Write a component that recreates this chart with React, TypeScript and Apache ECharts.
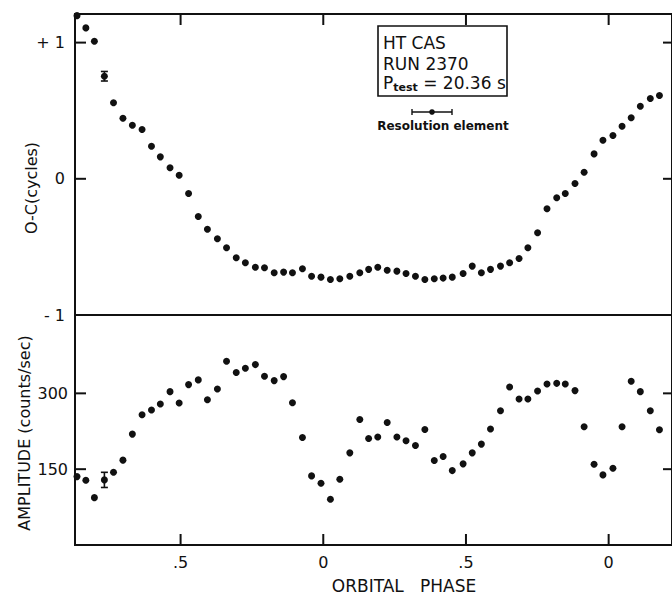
import React, { useEffect, useRef } from "react";
import * as echarts from "echarts";

// Orbital phase of each bin (continuous, wraps through 0 twice)
const phase = [
  -0.863, -0.832, -0.802, -0.767, -0.735, -0.702, -0.669, -0.635, -0.602, -0.571,
  -0.537, -0.505, -0.472, -0.438, -0.406, -0.371, -0.339, -0.305, -0.273, -0.238,
  -0.206, -0.172, -0.139, -0.108, -0.073, -0.041, -0.008, 0.025, 0.058, 0.093,
  0.128, 0.159, 0.191, 0.224, 0.258, 0.29, 0.323, 0.356, 0.389, 0.42,
  0.452, 0.49, 0.522, 0.554, 0.586, 0.621, 0.653, 0.686, 0.717, 0.751,
  0.784, 0.818, 0.848, 0.882, 0.914, 0.949, 0.98, 1.015, 1.047, 1.079,
  1.111, 1.146, 1.178,
];

// O-C (cycles)
const ocCycles = [
  1.198, 1.108, 1.01, 0.753, 0.558, 0.445, 0.393, 0.362, 0.239, 0.161,
  0.081, 0.026, -0.108, -0.277, -0.37, -0.44, -0.506, -0.58, -0.616, -0.649,
  -0.653, -0.69, -0.685, -0.69, -0.66, -0.715, -0.722, -0.739, -0.734, -0.715,
  -0.69, -0.665, -0.649, -0.671, -0.678, -0.695, -0.715, -0.739, -0.734, -0.729,
  -0.722, -0.695, -0.641, -0.69, -0.665, -0.641, -0.616, -0.585, -0.506, -0.396,
  -0.22, -0.139, -0.108, -0.034, 0.048, 0.183, 0.283, 0.318, 0.386, 0.448,
  0.533, 0.589, 0.611,
];

// Amplitude (counts/sec)
const amplitude = [
  135.3, 128.2, 93.7, 128.8, 144.0, 167.9, 219.4, 257.7, 267.1, 279.0,
  303.4, 281.0, 317.3, 326.6, 287.5, 308.7, 363.5, 341.1, 349.6, 356.9,
  333.7, 325.2, 333.1, 281.5, 212.7, 136.7, 122.2, 90.5, 130.2, 182.3,
  248.4, 210.7, 213.5, 242.5, 213.5, 206.2, 196.8, 228.6, 167.1, 175.0,
  147.2, 160.5, 182.3, 199.6, 229.4, 265.7, 312.7, 288.9, 288.9, 304.8,
  318.6, 319.8, 318.6, 305.4, 233.9, 159.9, 138.7, 152.0, 233.9, 323.8,
  303.4, 265.7, 228.0,
];

// Representative error bars: [phase, value, half-error]
const ocErrorBars = [[-0.767, 0.753, 0.035]];
const ampErrorBars = [[-0.767, 128.8, 15]];

// Tick positions and labels
const phaseTicks = [-0.5, 0, 0.5, 1.0];
const ocTicks = [-1, 0, 1];
const ocTickLabels: Record<string, string> = { "1": "+ 1", "0": "0", "-1": "- 1" };
const ampTicks = [150, 300];

const INK = "#111";
const FONT = "DejaVu Sans";

const X_MIN = -0.87;
const X_MAX = 1.222;
const OC_MIN = -1;
const OC_MAX = 1.21;
const AMP_MIN = 0;
const AMP_MAX = 455;

function errorRenderer(params: any, api: any) {
  const x = api.value(0);
  const y = api.value(1);
  const e = api.value(2);
  const top = api.coord([x, y + e]);
  const bot = api.coord([x, y - e]);
  const cw = 3.5;
  const st = { stroke: INK, lineWidth: 1.6 };
  return {
    type: "group",
    children: [
      { type: "line", shape: { x1: top[0], y1: top[1], x2: bot[0], y2: bot[1] }, style: st },
      { type: "line", shape: { x1: top[0] - cw, y1: top[1], x2: top[0] + cw, y2: top[1] }, style: st },
      { type: "line", shape: { x1: bot[0] - cw, y1: bot[1], x2: bot[0] + cw, y2: bot[1] }, style: st },
    ],
  };
}

export default function App() {
  const ref = useRef<HTMLDivElement>(null);

  useEffect(() => {
    if (!ref.current) return;
    const chart = echarts.init(ref.current, null, { renderer: "svg" });

    const noLine = { show: false, onZero: false };

    const baseGraphics: any[] = [
      {
        type: "text", x: 31, y: 188, rotation: Math.PI / 2,
        style: { text: "O-C(cycles)", fontSize: 16, fontFamily: FONT, fill: INK, align: "center", verticalAlign: "middle" },
      },
      {
        type: "text", x: 24, y: 433, rotation: Math.PI / 2,
        style: { text: "AMPLITUDE (counts/sec)", fontSize: 16, fontFamily: FONT, fill: INK, align: "center", verticalAlign: "middle" },
      },
      {
        type: "text", x: 404, y: 586,
        style: { text: "ORBITAL   PHASE", fontSize: 17, fontFamily: FONT, fill: INK, align: "center", verticalAlign: "middle" },
      },
      {
        type: "rect", shape: { x: 378, y: 26, width: 129, height: 70 },
        style: { fill: "none", stroke: INK, lineWidth: 1.6 },
      },
      {
        type: "text", x: 383, y: 43,
        style: { text: "HT CAS", fontSize: 17, fontFamily: FONT, fill: INK, align: "left", verticalAlign: "middle" },
      },
      {
        type: "text", x: 383, y: 64,
        style: { text: "RUN 2370", fontSize: 17, fontFamily: FONT, fill: INK, align: "left", verticalAlign: "middle" },
      },
      {
        type: "text", x: 383, y: 83,
        style: {
          text: "P{sub|test} = 20.36 s", fontSize: 17, fontFamily: FONT, fill: INK, align: "left", verticalAlign: "middle",
          rich: { sub: { fontSize: 11, fontWeight: "bold", fontFamily: FONT, fill: INK, padding: [8, 0, 0, 0] } },
        },
      },
      { type: "line", shape: { x1: 412, y1: 112, x2: 452, y2: 112 }, style: { stroke: INK, lineWidth: 1.4 } },
      { type: "line", shape: { x1: 412, y1: 109, x2: 412, y2: 115 }, style: { stroke: INK, lineWidth: 1.4 } },
      { type: "line", shape: { x1: 452, y1: 109, x2: 452, y2: 115 }, style: { stroke: INK, lineWidth: 1.4 } },
      { type: "circle", shape: { cx: 432, cy: 112, r: 2.8 }, style: { fill: INK } },
      {
        type: "text", x: 443, y: 126,
        style: { text: "Resolution element", fontSize: 12, fontWeight: "bold", fontFamily: FONT, fill: INK, align: "center", verticalAlign: "middle" },
      },
    ];

    const option: any = {
      animation: false,
      backgroundColor: "#fff",
      textStyle: { fontFamily: FONT, color: INK },
      grid: [
        { left: 75, top: 14, width: 601, height: 301, show: true, borderColor: INK, borderWidth: 2, backgroundColor: "transparent" },
        { left: 75, top: 315, width: 601, height: 230, show: true, borderColor: INK, borderWidth: 2, backgroundColor: "transparent" },
      ],
      xAxis: [
        {
          gridIndex: 0, type: "value", min: X_MIN, max: X_MAX, position: "top",
          axisLine: noLine, axisTick: { show: false }, axisLabel: { show: false }, splitLine: { show: false },
        },
        {
          gridIndex: 1, type: "value", min: X_MIN, max: X_MAX, position: "bottom",
          axisLine: noLine, axisTick: { show: false },
          axisLabel: {
            show: true, margin: 9, fontSize: 16, fontFamily: FONT, color: INK,
            customValues: phaseTicks,
            formatter: (v: number) => {
              const f = ((v % 1) + 1) % 1;
              return Math.abs(f - 0.5) < 1e-6 ? ".5" : "0";
            },
          },
          splitLine: { show: false },
        },
      ],
      yAxis: [
        {
          gridIndex: 0, type: "value", min: OC_MIN, max: OC_MAX, interval: 1, position: "left",
          axisLine: noLine, axisTick: { show: false },
          axisLabel: {
            margin: 10, fontSize: 16, fontFamily: FONT, color: INK,
            formatter: (v: number) => ocTickLabels[String(Math.round(v * 1000) / 1000)] ?? "",
          },
          splitLine: { show: false },
        },
        {
          gridIndex: 1, type: "value", min: AMP_MIN, max: AMP_MAX, interval: 150, position: "left",
          axisLine: noLine, axisTick: { show: false },
          axisLabel: {
            margin: 7, fontSize: 16, fontFamily: FONT, color: INK,
            formatter: (v: number) => (ampTicks.indexOf(v) >= 0 ? String(v) : ""),
          },
          splitLine: { show: false },
        },
      ],
      series: [
        {
          type: "scatter", xAxisIndex: 0, yAxisIndex: 0, symbolSize: 7, clip: true,
          itemStyle: { color: INK, opacity: 1 },
          data: phase.map((p, i) => [p, ocCycles[i]]),
        },
        {
          type: "scatter", xAxisIndex: 1, yAxisIndex: 1, symbolSize: 7, clip: true,
          itemStyle: { color: INK, opacity: 1 },
          data: phase.map((p, i) => [p, amplitude[i]]),
        },
        {
          type: "custom", xAxisIndex: 0, yAxisIndex: 0, renderItem: errorRenderer,
          encode: { x: 0, y: [1] }, data: ocErrorBars, z: 3,
        },
        {
          type: "custom", xAxisIndex: 1, yAxisIndex: 1, renderItem: errorRenderer,
          encode: { x: 0, y: [1] }, data: ampErrorBars, z: 3,
        },
      ],
      graphic: baseGraphics,
    };

    chart.setOption(option);

    // Axis ticks placed through the axes' own scales, drawn as small filled bars
    const bar = (x: number, y: number, w: number, h: number) => ({
      type: "rect", shape: { x, y, width: w, height: h }, style: { fill: INK }, z: 100,
    });
    const ticks: any[] = [];
    const g0 = { xAxisIndex: 0, yAxisIndex: 0 };
    const g1 = { xAxisIndex: 1, yAxisIndex: 1 };
    phaseTicks.forEach((v) => {
      const a = chart.convertToPixel(g0 as any, [v, OC_MAX]) as number[];
      ticks.push(bar(a[0] - 1, a[1], 2, 11));
      const b = chart.convertToPixel(g1 as any, [v, AMP_MIN]) as number[];
      ticks.push(bar(b[0] - 1, b[1] - 11, 2, 11));
    });
    ocTicks.forEach((v) => {
      const l = chart.convertToPixel(g0 as any, [X_MIN, v]) as number[];
      ticks.push(bar(l[0], l[1] - 1, 11, 2));
      const r = chart.convertToPixel(g0 as any, [X_MAX, v]) as number[];
      ticks.push(bar(r[0] - 9, r[1] - 1, 9, 2));
    });
    ampTicks.forEach((v) => {
      const l = chart.convertToPixel(g1 as any, [X_MIN, v]) as number[];
      ticks.push(bar(l[0], l[1] - 1, 11, 2));
      const r = chart.convertToPixel(g1 as any, [X_MAX, v]) as number[];
      ticks.push(bar(r[0] - 9, r[1] - 1, 9, 2));
    });
    chart.setOption({ graphic: [...baseGraphics, ...ticks] });

    return () => chart.dispose();
  }, []);

  return (
    <div
      ref={ref}
      style={{ position: "absolute", left: 0, top: 0, width: 672, height: 597, background: "#fff" }}
    />
  );
}
